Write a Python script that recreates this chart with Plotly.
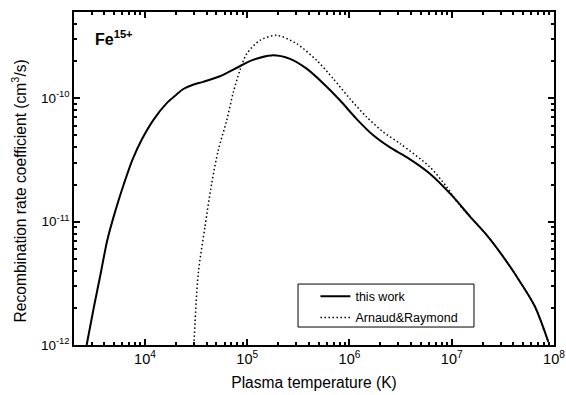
import plotly.graph_objects as go

# ---- data ----
T_this = [2.69e3, 3.17e3, 3.69e3, 4.28e3, 5.16e3, 6.24e3, 7.52e3, 9.42e3, 1.22e4,
          1.65e4, 2.00e4, 2.37e4, 2.95e4, 3.72e4, 5.41e4, 8.45e4, 1.12e5, 1.73e5,
          2.62e5, 3.81e5, 5.55e5, 8.07e5, 1.17e6, 1.71e6, 2.51e6, 3.62e6, 6.12e6,
          1.04e7, 1.51e7, 2.20e7, 3.19e7, 4.65e7, 6.52e7, 8.80e7]
R_this = [1.00e-12, 2.04e-12, 3.80e-12, 7.08e-12, 1.24e-11, 2.04e-11, 3.16e-11,
          4.72e-11, 6.76e-11, 9.23e-11, 1.06e-10, 1.19e-10, 1.29e-10, 1.36e-10,
          1.51e-10, 1.82e-10, 2.04e-10, 2.23e-10, 2.09e-10, 1.74e-10, 1.32e-10,
          9.64e-11, 6.82e-11, 5.01e-11, 3.98e-11, 3.34e-11, 2.45e-11, 1.58e-11,
          1.10e-11, 7.78e-12, 5.19e-12, 3.26e-12, 2.04e-12, 1.06e-12]

T_ar = [3.01e4, 3.32e4, 3.86e4, 4.49e4, 5.21e4, 6.30e4, 7.31e4, 8.49e4, 9.89e4,
        1.33e5, 1.94e5, 3.05e5, 4.78e5, 6.95e5, 1.01e6, 1.47e6, 2.14e6, 3.12e6,
        6.12e6, 8.93e6, 1.16e7, 1.51e7, 2.20e7, 3.19e7, 4.65e7, 6.52e7, 8.80e7]
R_ar = [1.0e-12, 3.80e-12, 9.08e-12, 2.04e-11, 3.79e-11, 6.64e-11, 1.12e-10,
        1.69e-10, 2.30e-10, 2.95e-10, 3.24e-10, 2.77e-10, 2.03e-10, 1.44e-10,
        9.93e-11, 7.06e-11, 5.33e-11, 4.30e-11, 2.77e-11, 1.91e-11, 1.40e-11,
        1.10e-11, 7.78e-12, 5.19e-12, 3.26e-12, 2.04e-12, 1.06e-12]

x_ticks = [1e4, 1e5, 1e6, 1e7, 1e8]
x_ticktext = ["10<sup>4</sup>", "10<sup>5</sup>", "10<sup>6</sup>", "10<sup>7</sup>", "10<sup>8</sup>"]
y_ticks = [1e-12, 1e-11, 1e-10]
y_ticktext = ["10<sup>-12</sup>", "10<sup>-11</sup>", "10<sup>-10</sup>"]
x_minor = [m * 10 ** e for e in range(3, 8) for m in range(2, 10)]
y_minor = [m * 10 ** e for e in range(-12, -9) for m in range(2, 10)]

X_RANGE = [3.306, 8.0]
Y_RANGE = [-12.0, -9.30]
FONT = "Liberation Sans, Arial, sans-serif"

fig = go.Figure()
fig.add_trace(go.Scatter(x=T_this, y=R_this, mode="lines", name="this work",
                         legendgroup="a",
                         line=dict(color="black", width=2, shape="spline", smoothing=0.8)))
fig.add_trace(go.Scatter(x=T_ar, y=R_ar, mode="lines", name="Arnaud&Raymond",
                         legendgroup="b", xaxis="x2", yaxis="y2",
                         line=dict(color="black", width=1.5, dash="1.5px,2.5px",
                                   shape="spline", smoothing=0.8)))

base = dict(type="log", showgrid=False, zeroline=False, automargin=False,
            mirror="ticks", ticks="inside", tickwidth=1.5, tickcolor="black")

fig.update_layout(
    xaxis=dict(**base, range=X_RANGE, tickmode="array", tickvals=x_ticks,
               ticktext=x_ticktext, ticklen=6,
               showline=True, linecolor="black", linewidth=1.5,
               tickfont=dict(family=FONT, size=14.5, color="black"),
               title=dict(text="Plasma temperature (K)", standoff=11,
                          font=dict(family=FONT, size=15.6, color="black"))),
    yaxis=dict(**base, range=Y_RANGE, tickmode="array", tickvals=y_ticks,
               ticktext=y_ticktext, ticklen=6,
               showline=True, linecolor="black", linewidth=1.5,
               tickfont=dict(family=FONT, size=13.5, color="black")),
    xaxis2=dict(**base, range=X_RANGE, overlaying="x", anchor="y2", side="bottom",
                tickmode="array", tickvals=x_minor, ticklen=3,
                showticklabels=False, showline=False),
    yaxis2=dict(**base, range=Y_RANGE, overlaying="y", anchor="x2", side="left",
                tickmode="array", tickvals=y_minor, ticklen=3,
                showticklabels=False, showline=False),
)

fig.add_annotation(xref="paper", yref="paper", x=-0.1125, y=0.461,
                   text="Recombination rate coefficient (cm<sup>3</sup>/s)",
                   textangle=-90, showarrow=False, xanchor="center", yanchor="middle",
                   font=dict(family=FONT, size=15.6, color="black"))
fig.add_annotation(xref="paper", yref="paper", x=0.04, y=0.958,
                   text="<b>Fe</b><sup><b>15+</b></sup>", showarrow=False,
                   xanchor="left", yanchor="top",
                   font=dict(family=FONT, size=16, color="black"))

# legend frame
fig.add_shape(type="rect", xref="paper", yref="paper",
              x0=0.4667, x1=0.8333, y0=0.054, y1=0.183,
              line=dict(color="black", width=1), fillcolor="white", layer="below")

fig.update_layout(
    width=566, height=395,
    margin=dict(l=74, r=12, t=12, b=50),
    paper_bgcolor="white", plot_bgcolor="white",
    showlegend=True,
    legend=dict(x=0.503, y=0.19, xanchor="left", yanchor="top",
                borderwidth=0, bgcolor="rgba(0,0,0,0)",
                font=dict(family=FONT, size=12.5, color="black"),
                tracegroupgap=2, itemwidth=30),
)

fig.write_html("out.html")
